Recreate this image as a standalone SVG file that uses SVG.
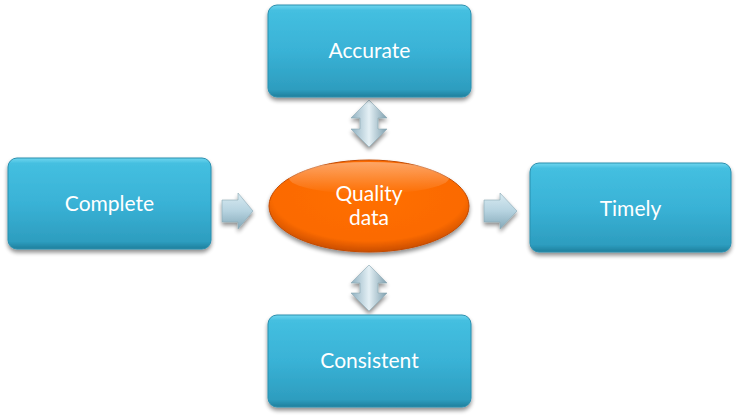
<svg xmlns="http://www.w3.org/2000/svg" width="739" height="420" viewBox="0 0 739 420">
<defs>
<linearGradient id="boxG" x1="0" y1="0" x2="0" y2="1">
<stop offset="0" stop-color="#6fd6ef"/>
<stop offset="0.06" stop-color="#44bfe0"/>
<stop offset="0.5" stop-color="#39b2d6"/>
<stop offset="0.92" stop-color="#2d9dbf"/>
<stop offset="1" stop-color="#1f7f9c"/>
</linearGradient>
<radialGradient id="ellG" cx="0.5" cy="0.4" r="0.6">
<stop offset="0" stop-color="#ff6f00"/>
<stop offset="0.8" stop-color="#fb6a05"/>
<stop offset="1" stop-color="#c94d00"/>
</radialGradient>
<linearGradient id="ellHi" x1="0" y1="0" x2="0" y2="1">
<stop offset="0" stop-color="#ffffff" stop-opacity="0.4"/>
<stop offset="1" stop-color="#ffffff" stop-opacity="0"/>
</linearGradient>
<linearGradient id="arV" x1="0" y1="0" x2="1" y2="0">
<stop offset="0" stop-color="#8fb0c0"/>
<stop offset="0.5" stop-color="#e4f0f5"/>
<stop offset="1" stop-color="#7e9fae"/>
</linearGradient>
<linearGradient id="arH" x1="0" y1="0" x2="0" y2="1">
<stop offset="0" stop-color="#d9ebf2"/>
<stop offset="0.5" stop-color="#b6d3e0"/>
<stop offset="1" stop-color="#84a8b8"/>
</linearGradient>
<filter id="sh" x="-10%" y="-10%" width="120%" height="130%">
<feGaussianBlur in="SourceAlpha" stdDeviation="2"/>
<feOffset dy="3"/>
<feComponentTransfer><feFuncA type="linear" slope="0.45"/></feComponentTransfer>
<feMerge><feMergeNode/><feMergeNode in="SourceGraphic"/></feMerge>
</filter>
</defs>
<style>
.box{fill:url(#boxG);stroke:#2a8fae;stroke-width:1;filter:url(#sh)}
.lbl{font-family:Lato,"Open Sans",sans-serif;font-size:21px;fill:#ffffff;text-anchor:middle}
.arv{fill:url(#arV);stroke:#8aa7b4;stroke-width:0.6;filter:url(#sh)}
.arh{fill:url(#arH);stroke:#8aa7b4;stroke-width:0.6;filter:url(#sh)}
</style>
<g id="connectors">
<path class="arv" d="M369,100 L387,118 L378,118 L378,129 L387,129 L369,147 L351,129 L360,129 L360,118 L351,118 Z"/>
<path class="arv" d="M369,265 L387,283 L378,283 L378,293 L387,293 L369,311 L351,293 L360,293 L360,283 L351,283 Z"/>
<path class="arh" d="M222,200 L238,200 L238,193 L253,211 L238,229 L238,222 L222,222 Z"/>
<path class="arh" d="M484,200 L500,200 L500,193 L517,211 L500,229 L500,222 L484,222 Z"/>
</g>
<g id="accurate">
<rect class="box" x="268" y="5" width="203" height="92" rx="9"/>
<text class="lbl" x="369.5" y="58">Accurate</text>
</g>
<g id="complete">
<rect class="box" x="8" y="158" width="203" height="91" rx="9"/>
<text class="lbl" x="109.5" y="211">Complete</text>
</g>
<g id="timely">
<rect class="box" x="530" y="163" width="201" height="89" rx="9"/>
<text class="lbl" x="630.5" y="216">Timely</text>
</g>
<g id="consistent">
<rect class="box" x="268" y="315" width="203" height="92" rx="9"/>
<text class="lbl" x="369.5" y="368">Consistent</text>
</g>
<g id="quality">
<ellipse cx="369" cy="206" rx="100" ry="46" fill="url(#ellG)" stroke="#c24a00" stroke-width="1" filter="url(#sh)"/>
<ellipse cx="369" cy="178" rx="80" ry="16" fill="url(#ellHi)"/>
<text class="lbl" x="369" y="201">Quality</text>
<text class="lbl" x="369" y="225">data</text>
</g>
</svg>
